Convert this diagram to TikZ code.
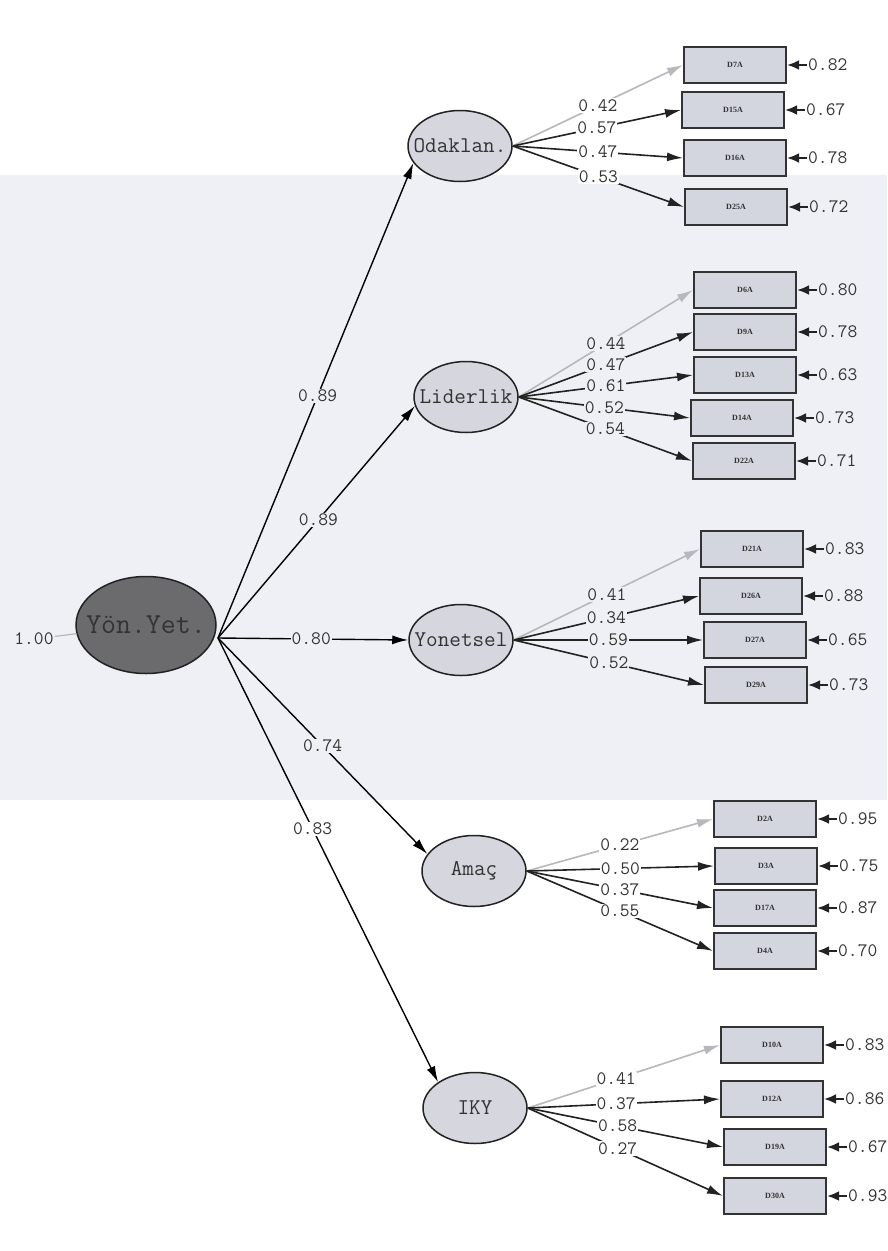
\documentclass[tikz,border=0pt]{standalone}
\usepackage{fontspec}
\newfontfamily\lisfont{Latin Modern Mono}
\newfontfamily\boxfont{Liberation Serif}
\usetikzlibrary{arrows.meta,positioning,shapes.geometric}

% keep the ellipse size fixed, whatever the text width
\newcommand{\ltext}[1]{\makebox[0pt]{#1}}

\begin{document}
\begin{tikzpicture}[x=1pt, y=-1pt,
    latent/.style={ellipse, draw=lineColour, line width=1.5pt, fill=latentColour,
        minimum width=104pt, minimum height=71pt, inner sep=0pt,
        font=\lisfont\fontsize{22.5}{25}\selectfont, text=textColour},
    indbox/.style={rectangle, draw=boxBorder, line width=2pt, fill=boxColour,
        minimum width=102pt, minimum height=36pt, inner sep=0pt,
        font=\boxfont\bfseries\fontsize{8}{10}\selectfont, text=textColour},
    coef/.style={fill=white, inner sep=1pt, font=\lisfont\fontsize{19}{22}\selectfont, text=textColour},
    coefband/.style={coef, fill=bandColour},
    errlab/.style={inner sep=1pt, font=\lisfont\fontsize{19}{22}\selectfont, text=textColour},
    structural/.style={line width=1.4pt, -{Latex[length=16pt,width=9pt]}},
    loading/.style={line width=1.6pt, -{Latex[length=16pt,width=9pt]}},
    errarrow/.style={line width=2.4pt, draw=lineColour, -{Latex[length=12pt,width=10pt]}}
]
    % Define colours
    \definecolor{lineColour}{HTML}{222222}
    \definecolor{textColour}{HTML}{333333}
    \definecolor{latentColour}{HTML}{D5D6DE}
    \definecolor{mainColour}{HTML}{6B6B6D}
    \definecolor{boxColour}{HTML}{D3D5DF}
    \definecolor{boxBorder}{HTML}{333333}
    \definecolor{fixColour}{HTML}{B8B8BC}
    \definecolor{bandColour}{HTML}{EEF0F5}

    % Page and light scan band
    \useasboundingbox (0,0) rectangle (887,1251);
    \fill[white] (0,0) rectangle (887,1251);
    \fill[bandColour] (0,175) rectangle (887,800);

    % Second order factor
    \node[ellipse, draw=lineColour, line width=1.5pt, fill=mainColour,
        minimum width=140pt, minimum height=97pt, inner sep=0pt,
        font=\lisfont\fontsize{29}{32}\selectfont, text=textColour] (yon) at (146,625) {\ltext{Yön.Yet.}};
    \coordinate (yonout) at (218,638);
    \node[errlab, fill=bandColour] (one) at (34,639) {1.00};
    \draw[fixColour, line width=1.2pt] (one) -- (yon);

    % First order factors
    \node[latent] (odak) at (460,146) {\ltext{Odaklan.}};
    \node[latent] (lider) at (466,397) {\ltext{Liderlik}};
    \node[latent] (yonet) at (461,640) {\ltext{Yonetsel}};
    \node[latent] (amac) at (474,871) {\ltext{Amaç}};
    \node[latent] (iky) at (475,1108) {\ltext{IKY}};

    % Structural paths
    \draw[structural] (yonout) -- node[coefband, pos=.51] {0.89} (odak.200);
    \draw[structural] (yonout) -- node[coefband, pos=.51] {0.89} (lider.190);
    \draw[structural] (yonout) -- node[coefband, pos=.49] {0.80} (yonet.west);
    \draw[structural] (yonout) -- node[coefband, pos=.5] {0.74} (amac.160);
    \draw[structural] (yonout) -- node[coef, pos=.43] {0.83} (iky.145);

    % Odaklan. indicators
    \foreach \n/\x/\y/\lab/\coef/\err/\lc in {d7/735/65/D7A/0.42/0.82/fixColour,
        d15/733/110/D15A/0.57/0.67/lineColour, d16/735/158/D16A/0.47/0.78/lineColour,
        d25/736/207/D25A/0.53/0.72/lineColour}
    {
        \node[indbox] (\n) at (\x,\y) {\lab};
        \node[errlab, right=20pt of \n] (e\n) {\err};
        \draw[errarrow] (e\n) -- (\n);
        \draw[loading, draw=\lc] (odak.east) -- node[coef] {\coef} (\n.west);
    }

    % Liderlik indicators
    \foreach \n/\x/\y/\lab/\coef/\err/\lc in {d6/745/290/D6A/0.44/0.80/fixColour,
        d9/745/332/D9A/0.47/0.78/lineColour, d13/745/375/D13A/0.61/0.63/lineColour,
        d14/742/418/D14A/0.52/0.73/lineColour, d22/744/461/D22A/0.54/0.71/lineColour}
    {
        \node[indbox] (\n) at (\x,\y) {\lab};
        \node[errlab, right=20pt of \n] (e\n) {\err};
        \draw[errarrow] (e\n) -- (\n);
        \draw[loading, draw=\lc] (lider.east) -- node[coefband] {\coef} (\n.west);
    }

    % Yonetsel indicators
    \foreach \n/\x/\y/\lab/\coef/\err/\lc in {d21/752/549/D21A/0.41/0.83/fixColour,
        d26/751/596/D26A/0.34/0.88/lineColour, d27/755/640/D27A/0.59/0.65/lineColour,
        d29/756/685/D29A/0.52/0.73/lineColour}
    {
        \node[indbox] (\n) at (\x,\y) {\lab};
        \node[errlab, right=20pt of \n] (e\n) {\err};
        \draw[errarrow] (e\n) -- (\n);
        \draw[loading, draw=\lc] (yonet.east) -- node[coefband] {\coef} (\n.west);
    }

    % Amac indicators
    \foreach \n/\x/\y/\lab/\coef/\err/\lc in {d2/765/819/D2A/0.22/0.95/fixColour,
        d3/766/866/D3A/0.50/0.75/lineColour, d17/765/908/D17A/0.37/0.87/lineColour,
        d4/765/951/D4A/0.55/0.70/lineColour}
    {
        \node[indbox] (\n) at (\x,\y) {\lab};
        \node[errlab, right=20pt of \n] (e\n) {\err};
        \draw[errarrow] (e\n) -- (\n);
        \draw[loading, draw=\lc] (amac.east) -- node[coef] {\coef} (\n.west);
    }

    % IKY indicators
    \foreach \n/\x/\y/\lab/\coef/\err/\lc in {d10/772/1045/D10A/0.41/0.83/fixColour,
        d12/772/1099/D12A/0.37/0.86/lineColour, d19/775/1147/D19A/0.58/0.67/lineColour,
        d30/775/1196/D30A/0.27/0.93/lineColour}
    {
        \node[indbox] (\n) at (\x,\y) {\lab};
        \node[errlab, right=20pt of \n] (e\n) {\err};
        \draw[errarrow] (e\n) -- (\n);
        \draw[loading, draw=\lc] (iky.east) -- node[coef, pos=.46] {\coef} (\n.west);
    }

\end{tikzpicture}
\end{document}
